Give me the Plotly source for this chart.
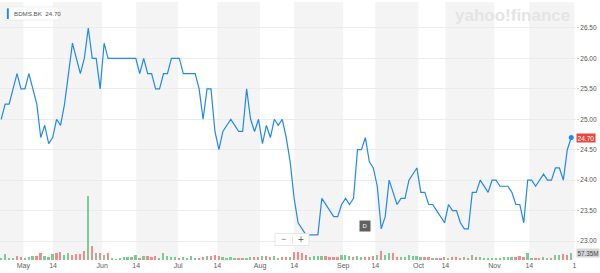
import plotly.graph_objects as go

# ---------------- data ----------------
symbol = "BDMS.BK"

close = [
    25.0, 25.25, 25.25, 25.5, 25.75, 25.5, 25.5, 25.75, 25.5, 25.25,
    24.7, 24.9, 24.6, 24.7, 25.0, 24.9, 25.25, 25.75, 26.25, 26.0,
    25.75, 26.0, 26.5, 26.0, 26.0, 25.5, 26.25, 26.0, 26.0, 26.0,
    26.0, 26.0, 26.0, 26.0, 26.0, 25.75, 26.0, 25.75, 25.75, 25.5,
    25.5, 25.75, 25.75, 26.0, 26.0, 26.0, 25.75, 25.75, 25.75, 25.75,
    25.5, 25.0, 25.5, 25.5, 24.8, 24.5, 24.8, 24.9, 25.0, 24.9,
    24.8, 24.8, 25.5, 25.0, 24.8, 25.0, 24.6, 24.9, 24.7, 25.0,
    24.9, 25.0, 24.7, 24.3, 23.7, 23.3, 23.2, 23.1, 23.1, 23.1,
    23.1, 23.7, 23.6, 23.5, 23.4, 23.4, 23.6, 23.7, 23.6, 23.7,
    24.5, 24.5, 24.7, 24.3, 24.2, 23.9, 23.2, 23.4, 24.0, 23.8,
    23.6, 23.7, 23.7, 24.0, 24.1, 24.2, 23.8, 23.8, 23.6, 23.6,
    23.5, 23.4, 23.3, 23.6, 23.5, 23.5, 23.3, 23.2, 23.2, 23.8,
    23.8, 24.0, 23.9, 23.8, 24.0, 24.0, 23.9, 23.9, 23.9, 23.8,
    23.6, 23.6, 23.3, 24.0, 24.0, 23.9, 24.0, 24.1, 24.0, 24.0,
    24.2, 24.2, 24.0, 24.5, 24.7,
]

volume_m = [
    12, 49, 19, 14, 33, 27, 19, 25, 30, 33,
    60, 33, 27, 46, 57, 66, 44, 57, 44, 46,
    49, 71, 527, 115, 57, 55, 41, 60, 19, 8,
    19, 25, 27, 25, 44, 19, 33, 33, 27, 30,
    11, 55, 30, 27, 22, 19, 22, 11, 30, 19,
    14, 22, 33, 33, 44, 30, 25, 19, 22, 14,
    14, 16, 19, 25, 27, 27, 33, 30, 22, 33,
    16, 25, 22, 25, 62, 64, 55, 38, 27, 33,
    35, 33, 33, 22, 27, 22, 38, 38, 35, 22,
    33, 27, 27, 27, 33, 38, 74, 44, 60, 60,
    22, 22, 27, 38, 33, 33, 27, 22, 27, 11,
    11, 16, 22, 16, 27, 22, 16, 22, 16, 38,
    27, 22, 16, 16, 11, 16, 11, 22, 27, 22,
    27, 33, 27, 60, 16, 16, 16, 27, 16, 16,
    44, 38, 49, 44, 57.35,
]

# G = up-day volume bar, R = down-day volume bar
vol_dir = ("GGGGRRGGGR" "RGGGRRGGRR" "RRGRGRGRGG" "GGGGGRGRRR" "GGGGGRGGGG"
           "RRGRRRGGGG" "RRGGRRGRRG" "GRRGRRRRGG" "GGRRRRGGGR" "GGRRRGRGGR"
           "RGGGGGGRRG" "RRRGRRRGRG" "RGGGGGGGGG" "RRRGGRRGGR" "GGRRG")

tick_pos = [5.6, 13.1, 25.5, 34.1, 44.7, 54.6, 65.4, 74.0, 86.4, 94.5,
            105.4, 112.2, 124.6, 133.4, 144.8]
tick_labels = ["May", "14", "Jun", "14", "Jul", "14", "Aug", "14", "Sep", "14",
               "Oct", "14", "Nov", "14", "1"]
price_ticks = [23.0, 23.5, 24.0, 24.5, 25.0, 25.5, 26.0, 26.5]
dividend_day = 92

days = list(range(len(close)))

# ---------------- layout constants ----------------
W, H = 600, 273
ML, MR, MT, MB = 0, 24, 2, 13
PW, PH = W - ML - MR, H - MT - MB
X_RANGE = [-0.3, 145.2]
Y_RANGE = [22.688, 26.927]
V_RANGE = [0, 2113]
FONT = "Liberation Sans, Arial, Helvetica, sans-serif"

LINE_BLUE = "#2188f0"
UP_GREEN = "#7ccb93"
DOWN_RED = "#f28c8a"
BAND = "#f4f4f4"


def pxx(px):
    return (px - ML) / PW


def pxy(py):
    return (MT + PH - py) / PH


fig = go.Figure()

fig.add_trace(go.Bar(
    x=days, y=volume_m, yaxis="y2", width=0.45,
    marker=dict(color=[UP_GREEN if d == "G" else DOWN_RED for d in vol_dir], line_width=0),
    showlegend=False, hoverinfo="skip",
))

fig.add_trace(go.Scatter(
    x=days, y=close, mode="lines",
    line=dict(color=LINE_BLUE, width=1.2),
    showlegend=False, hoverinfo="skip",
))

fig.add_trace(go.Scatter(
    x=[days[-1]], y=[close[-1]], mode="markers",
    marker=dict(color=LINE_BLUE, size=5),
    showlegend=False, hoverinfo="skip",
))

shapes = []
# alternating background bands: from each "14" tick to the next month start
starts = [X_RANGE[0]] + tick_pos[1::2]
ends = tick_pos[0::2]
for a, b in zip(starts, ends):
    shapes.append(dict(type="rect", xref="x", yref="paper", x0=a, x1=b, y0=0, y1=1,
                       fillcolor=BAND, line_width=0, layer="below"))

# legend box (top-left)
shapes.append(dict(type="rect", xref="paper", yref="paper",
                   x0=pxx(5), x1=pxx(59), y0=pxy(20), y1=pxy(7),
                   fillcolor="white", line=dict(color="#e4e4e4", width=0.6), layer="above"))
shapes.append(dict(type="rect", xref="paper", yref="paper",
                   x0=pxx(6.8), x1=pxx(8.8), y0=pxy(19), y1=pxy(8.3),
                   fillcolor=LINE_BLUE, line_width=0, layer="above"))

# zoom control "- +"
shapes.append(dict(type="rect", xref="paper", yref="paper",
                   x0=pxx(275), x1=pxx(309), y0=pxy(245.5), y1=pxy(233.5),
                   fillcolor="white", line=dict(color="#e2e2e2", width=0.8), layer="above"))
shapes.append(dict(type="line", xref="paper", yref="paper",
                   x0=pxx(292.5), x1=pxx(292.5), y0=pxy(243.5), y1=pxy(235.5),
                   line=dict(color="#e2e2e2", width=0.8), layer="above"))

annotations = [
    dict(xref="paper", yref="paper", x=pxx(11.5), y=pxy(13.7), xanchor="left", yanchor="middle",
         text=f"{symbol}&nbsp;&nbsp;{close[-1]:.2f}", showarrow=False,
         font=dict(family=FONT, size=6.2, color="#555555")),
    dict(xref="paper", yref="paper", x=pxx(512), y=pxy(16), xanchor="center", yanchor="middle",
         text="<b>yahoo!finance</b>", showarrow=False,
         font=dict(family=FONT, size=17, color="#e4e4e4")),
    dict(xref="paper", yref="y", x=1.0, y=close[-1], xanchor="left", yanchor="middle",
         text=f"{close[-1]:.2f}", showarrow=False, bgcolor="#e8483f", borderpad=0.5,
         font=dict(family=FONT, size=6.6, color="white")),
    dict(xref="paper", yref="y2", x=1.0, y=volume_m[-1], xanchor="left", yanchor="middle",
         text=f"{volume_m[-1]:.2f}M", showarrow=False, bgcolor="#d6d6d6", borderpad=0.5,
         font=dict(family=FONT, size=6.3, color="#444444")),
    dict(xref="x", yref="paper", x=dividend_day, y=pxy(225.5), xanchor="center", yanchor="middle",
         text="D", showarrow=False, bgcolor="#606060", width=8, height=8,
         font=dict(family=FONT, size=6, color="white")),
    dict(xref="paper", yref="paper", x=pxx(283.5), y=pxy(239.3), xanchor="center", yanchor="middle",
         text="\u2212", showarrow=False, font=dict(family=FONT, size=9, color="#777777")),
    dict(xref="paper", yref="paper", x=pxx(300.8), y=pxy(239.3), xanchor="center", yanchor="middle",
         text="+", showarrow=False, font=dict(family=FONT, size=10, color="#666666")),
]

fig.update_layout(
    width=W, height=H,
    margin=dict(l=ML, r=MR, t=MT, b=MB, pad=0),
    paper_bgcolor="white", plot_bgcolor="white",
    showlegend=False, hovermode=False,
    shapes=shapes, annotations=annotations,
    xaxis=dict(range=X_RANGE, tickmode="array", tickvals=tick_pos, ticktext=tick_labels,
               showgrid=False, zeroline=False, showline=False, ticks="",
               tickfont=dict(family=FONT, size=7, color="#5e5e5e"), fixedrange=True),
    yaxis=dict(range=Y_RANGE, side="right", tickmode="array", tickvals=price_ticks,
               ticktext=[f"{v:.2f}" for v in price_ticks],
               showgrid=True, gridcolor="#ebebeb", gridwidth=1, zeroline=False, showline=False,
               ticks="outside", ticklen=2, tickcolor="#cccccc",
               tickfont=dict(family=FONT, size=6.5, color="#555555"), fixedrange=True),
    yaxis2=dict(range=V_RANGE, overlaying="y", visible=False, fixedrange=True),
    bargap=0,
)

fig.write_html("out.html", config={"displayModeBar": False})
